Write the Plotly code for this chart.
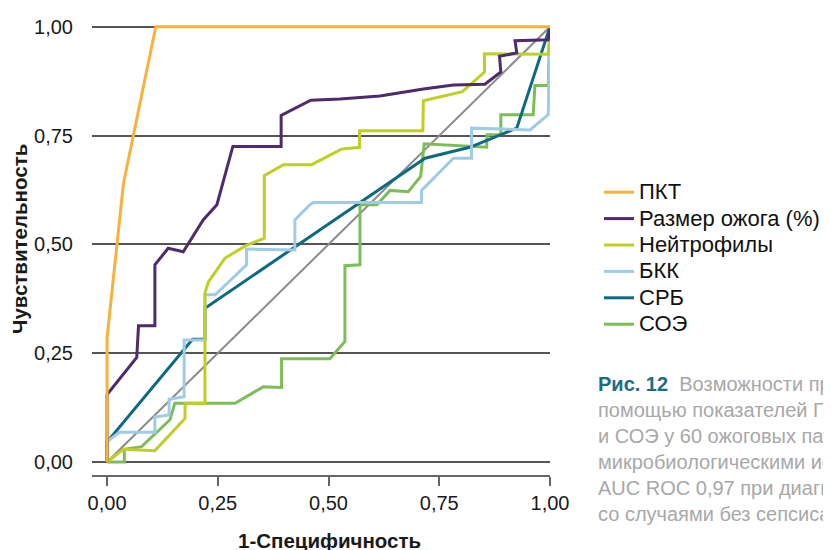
import plotly.graph_objects as go

# ---- data ----
x_ticks = [0, 0.25, 0.5, 0.75, 1.0]
x_tick_labels = ["0,00", "0,25", "0,50", "0,75", "1,00"]
y_ticks = [0, 0.25, 0.5, 0.75, 1.0]
y_tick_labels = ["0,00", "0,25", "0,50", "0,75", "1,00"]
x_title = "1-Специфичность"
y_title = "Чувствительность"

diag_x = [0, 1]
diag_y = [0, 1]

pkt_x = [0, 0, 0.037, 0.11, 1]
pkt_y = [0, 0.285, 0.64, 1, 1]

burn_x = [0, 0, 0.067, 0.071, 0.108, 0.108, 0.138, 0.172, 0.217, 0.248, 0.284, 0.393,
          0.393, 0.46, 0.526, 0.616, 0.714, 0.782, 0.853, 0.889, 0.886, 0.925, 0.921, 0.996, 1]
burn_y = [0, 0.155, 0.24, 0.313, 0.313, 0.453, 0.491, 0.483, 0.556, 0.591, 0.725, 0.725,
          0.796, 0.831, 0.834, 0.841, 0.857, 0.866, 0.868, 0.896, 0.932, 0.940, 0.968, 0.970, 1]

neut_x = [0, 0.037, 0.108, 0.176, 0.176, 0.221, 0.221, 0.229, 0.266, 0.313, 0.355, 0.355,
          0.398, 0.462, 0.53, 0.57, 0.57, 0.713, 0.714, 0.802, 0.852, 0.852, 0.996, 1]
neut_y = [0, 0.029, 0.026, 0.1, 0.135, 0.135, 0.388, 0.414, 0.468, 0.497, 0.514, 0.658,
          0.683, 0.683, 0.719, 0.723, 0.761, 0.761, 0.830, 0.851, 0.896, 0.938, 0.937, 1]

bkk_x = [0, 0, 0.028, 0.108, 0.108, 0.14, 0.14, 0.174, 0.174, 0.221, 0.221, 0.244, 0.315,
         0.315, 0.424, 0.424, 0.458, 0.466, 0.71, 0.71, 0.782, 0.823, 0.823, 0.955, 0.996, 1]
bkk_y = [0, 0.047, 0.068, 0.068, 0.103, 0.108, 0.144, 0.15, 0.28, 0.28, 0.384, 0.384, 0.453,
         0.489, 0.487, 0.556, 0.591, 0.596, 0.596, 0.624, 0.698, 0.698, 0.767, 0.763, 0.798, 1]

srb_x = [0, 0, 0.193, 0.221, 0.221, 0.718, 0.819, 0.925, 1]
srb_y = [0, 0.046, 0.282, 0.282, 0.353, 0.698, 0.723, 0.767, 1]

soe_x = [0, 0.039, 0.039, 0.078, 0.142, 0.153, 0.289, 0.353, 0.394, 0.394, 0.503, 0.537,
         0.537, 0.571, 0.571, 0.609, 0.639, 0.68, 0.708, 0.716, 0.857, 0.858, 0.889, 0.889,
         0.962, 0.966, 0.996, 1]
soe_y = [0, 0, 0.029, 0.035, 0.097, 0.135, 0.135, 0.173, 0.171, 0.237, 0.237, 0.277,
         0.451, 0.453, 0.591, 0.591, 0.624, 0.621, 0.656, 0.731, 0.723, 0.752, 0.752, 0.798,
         0.798, 0.865, 0.865, 1]

series = [
    # name, x, y, colour, legend rank
    ("СОЭ", soe_x, soe_y, "#7cbd57", 6),
    ("СРБ", srb_x, srb_y, "#0f6a80", 5),
    ("БКК", bkk_x, bkk_y, "#9fcbe6", 4),
    ("Нейтрофилы", neut_x, neut_y, "#bfcf25", 3),
    ("Размер ожога (%)", burn_x, burn_y, "#4d2b6c", 2),
    ("ПКТ", pkt_x, pkt_y, "#f6b23a", 1),
]

FONT = "Liberation Sans, Arial, sans-serif"

fig = go.Figure()
fig.add_trace(go.Scatter(x=diag_x, y=diag_y, mode="lines", showlegend=False,
                         line=dict(color="#8a8a8a", width=2), hoverinfo="skip"))
for name, xs, ys, col, rank in series:
    fig.add_trace(go.Scatter(x=xs, y=ys, mode="lines",
                             name="<span style='font-size:22px'>" + name + "</span>",
                             legendrank=rank, line=dict(color=col, width=3)))

caption = ("<b><span style='color:#1b6c83'>Рис. 12</span></b>  Возможности прогнозирования сепсиса с<br>"
           "помощью показателей ПКТ, размера ожога, нейтрофилов, БКК, СРБ<br>"
           "и СОЭ у 60 ожоговых пациентов с подтвержденными<br>"
           "микробиологическими исследованиями сепсисом. ПКТ показал<br>"
           "AUC ROC 0,97 при диагностике сепсиса по сравнению<br>"
           "со случаями без сепсиса")

# the page body adds an 8px offset; plot area sits at screen x 92..550, y 25..475
PW, PH, PL, PB = 458, 450, 92, 475

fig.add_annotation(text=caption, xref="paper", yref="paper",
                   x=(596 - PL) / PW, y=(PB - 371) / PH, xanchor="left", yanchor="top",
                   align="left", showarrow=False,
                   font=dict(family=FONT, size=20, color="#a8a8a8"))

# axis titles (placed as in the reference: centred on the data area)
fig.add_annotation(text="<b>" + x_title + "</b>", xref="paper", yref="paper",
                   x=(329 - PL) / PW, y=(PB - 540) / PH, xanchor="center", yanchor="middle",
                   showarrow=False, font=dict(family=FONT, size=20.5, color="#1a1a1a"))
fig.add_annotation(text="<b>" + y_title + "</b>", xref="paper", yref="paper", textangle=-90,
                   x=(20 - PL) / PW, y=(PB - 239) / PH, xanchor="center", yanchor="middle",
                   showarrow=False, font=dict(family=FONT, size=20.5, color="#1a1a1a"))

fig.update_layout(
    width=831, height=550,
    margin=dict(l=84, r=289, t=17, b=83, autoexpand=False),
    paper_bgcolor="white", plot_bgcolor="white",
    font=dict(family=FONT, color="#1a1a1a"),
    showlegend=True,
    legend=dict(x=(599 - PL) / PW, y=(PB - 174) / PH, xanchor="left", yanchor="top",
                font=dict(family=FONT, size=18, color="#111111"),
                bgcolor="rgba(0,0,0,0)", traceorder="normal", itemwidth=30),
    xaxis=dict(range=[-0.034, 1.0], tickvals=x_ticks, ticktext=x_tick_labels,
               automargin=False,
               showgrid=False, zeroline=False, showline=True, linecolor="#666666",
               linewidth=1.5, ticks="outside", ticklen=9, tickwidth=1.5, tickcolor="#666666",
               tickfont=dict(family=FONT, size=20, color="#1a1a1a")),
    yaxis=dict(range=[-0.03, 1.004], tickvals=y_ticks, ticktext=y_tick_labels,
               automargin=False,
               showgrid=True, gridcolor="#555555", gridwidth=1.5, zeroline=False,
               showline=False, ticks="outside", ticklen=14, tickcolor="rgba(0,0,0,0)",
               tickfont=dict(family=FONT, size=20, color="#1a1a1a")),
)

fig.write_html("out.html")
